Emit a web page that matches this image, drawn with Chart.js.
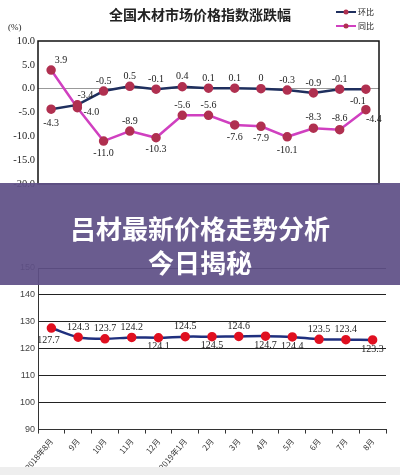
<!DOCTYPE html><html><head><meta charset="utf-8">
<script src="https://cdn.jsdelivr.net/npm/chart.js@4"></script>
<style>
body{margin:0;width:400px;height:475px;background:#fff;position:relative;overflow:hidden;font-family:"Noto Sans CJK SC",sans-serif}
#c1{position:absolute;left:0;top:0}
#c2{position:absolute;left:0;top:200px}
#ban{position:absolute;left:0;top:183px;width:400px;height:102px;background:rgba(95,80,135,0.93);color:#fff;font-weight:bold;font-size:26px;text-align:center;line-height:34px;padding-top:28px;box-sizing:border-box}
#foot{position:absolute;left:0;top:467px;width:400px;height:8px;background:#eee}
</style></head><body>
<canvas id="c1" width="400" height="200"></canvas>
<canvas id="c2" width="400" height="275"></canvas>
<div id="foot"></div>
<div id="ban">吕材最新价格走势分析<br>今日揭秘</div>
<script>
const cats1=["","","","","","","","","","","","",""];
const huanbi=[-4.3,-3.4,-0.5,0.5,-0.1,0.4,0.1,0.1,0,-0.3,-0.9,-0.1,-0.1];
const tongbi=[3.9,-4.0,-11.0,-8.9,-10.3,-5.6,-5.6,-7.6,-7.9,-10.1,-8.3,-8.6,-4.4];
const months=["2018年8月","9月","10月","11月","12月","2019年1月","2月","3月","4月","5月","6月","7月","8月"];
const index2=[127.7,124.3,123.7,124.2,124.1,124.5,124.5,124.6,124.7,124.4,123.5,123.4,123.3];
// label placement (style only): [dx,dy]
const posHb=[[0,14],[8,-9],[0,-10],[0,-10],[0,-10],[0,-10],[0,-10],[0,-10],[0,-10],[0,-10],[0,-10],[0,-10],[-8,12]];
const posTb=[[10,-10],[14,5],[0,12],[0,-10],[0,12],[0,-10],[0,-10],[0,12],[0,12],[0,14],[0,-11],[0,-11],[8,10]];
const pos2=[[-3,12],[0,-10],[0,-10],[0,-10],[0,9],[0,-10],[0,9],[0,-10],[0,9],[0,9],[0,-10],[0,-10],[0,9]];
const fmt=v=>v===0?"0":v.toFixed(1);
const labelPlugin={id:'lbl',afterDatasetsDraw(ch,a,opts){const ctx=ch.ctx;ctx.save();ctx.font='10px "Liberation Serif","DejaVu Serif",serif';ctx.fillStyle='#222';ctx.textAlign='center';ctx.textBaseline='middle';
ch.data.datasets.forEach((ds,i)=>{const pp=ds.lblPos;ch.getDatasetMeta(i).data.forEach((pt,j)=>{ctx.fillText(fmt(ds.data[j]),pt.x+pp[j][0],pt.y+pp[j][1]);});});ctx.restore();}};
const titlePlugin={id:'ttl',afterDraw(ch){const ctx=ch.ctx;ctx.save();ctx.fillStyle='#222';ctx.font='bold 14px "Noto Sans CJK SC"';ctx.textAlign='center';ctx.fillText('全国木材市场价格指数涨跌幅',200,20);
ctx.font='9px "Liberation Serif",serif';ctx.textAlign='left';ctx.fillText('(%)',8,30);
[['#1f2f5e','环比',12],['#d040c0','同比',26]].forEach(([c,t,y])=>{ctx.strokeStyle=c;ctx.lineWidth=2;ctx.beginPath();ctx.moveTo(336,y);ctx.lineTo(356,y);ctx.stroke();ctx.fillStyle='#b03050';ctx.beginPath();ctx.arc(346,y,2.5,0,7);ctx.fill();ctx.fillStyle='#222';ctx.font='8px "Noto Sans CJK SC"';ctx.fillText(t,358,y+3);});
const ca=ch.chartArea;ctx.strokeStyle='#111';ctx.lineWidth=1.5;ctx.strokeRect(ca.left,ca.top,ca.right-ca.left,ca.bottom-ca.top);ctx.restore();}};
new Chart(document.getElementById('c1'),{type:'line',data:{labels:cats1,datasets:[
{data:huanbi,borderColor:'#1f2f5e',borderWidth:2.5,pointBackgroundColor:'#b03050',pointBorderColor:'#b03050',pointRadius:3.5,lblPos:posHb,tension:0},
{data:tongbi,borderColor:'#d040c0',borderWidth:2.5,pointBackgroundColor:'#b03050',pointBorderColor:'#b03050',pointRadius:3.5,lblPos:posTb,tension:0}]},
options:{responsive:false,animation:false,layout:{padding:{top:41,right:21,left:0,bottom:8}},plugins:{legend:{display:false},tooltip:{enabled:false}},
scales:{x:{offset:true,grid:{display:false},ticks:{display:false},border:{display:false}},
y:{min:-20,max:10,afterFit(s){s.width=38},ticks:{stepSize:5,callback:v=>v.toFixed(1),color:'#222',font:{family:'"Liberation Serif",serif',size:10.5}},grid:{color:c=>c.tick.value===0?'#999':'transparent',drawTicks:false},border:{display:false}}}},plugins:[labelPlugin,titlePlugin]});
new Chart(document.getElementById('c2'),{type:'line',data:{labels:months,datasets:[
{data:index2,borderColor:'#1f2f7e',borderWidth:2.5,pointBackgroundColor:'#e01020',pointBorderColor:'#e01020',pointRadius:3.5,lblPos:pos2,tension:0.3}]},
options:{responsive:false,animation:false,layout:{padding:{top:68,right:14,left:0,bottom:0}},plugins:{legend:{display:false},tooltip:{enabled:false}},
scales:{x:{offset:true,grid:{display:true,drawOnChartArea:false,offset:true,color:'#333',tickLength:4},ticks:{maxRotation:50,minRotation:50,color:'#333',font:{family:'"Noto Sans CJK SC"',size:8}},border:{color:'#333'}},
y:{min:90,max:150,afterFit(s){s.width=38},ticks:{stepSize:10,color:'#444',font:{family:'"Liberation Sans",sans-serif',size:9}},grid:{color:'#222',drawTicks:false},border:{color:'#333'}}}},plugins:[labelPlugin]});
</script></body></html>
